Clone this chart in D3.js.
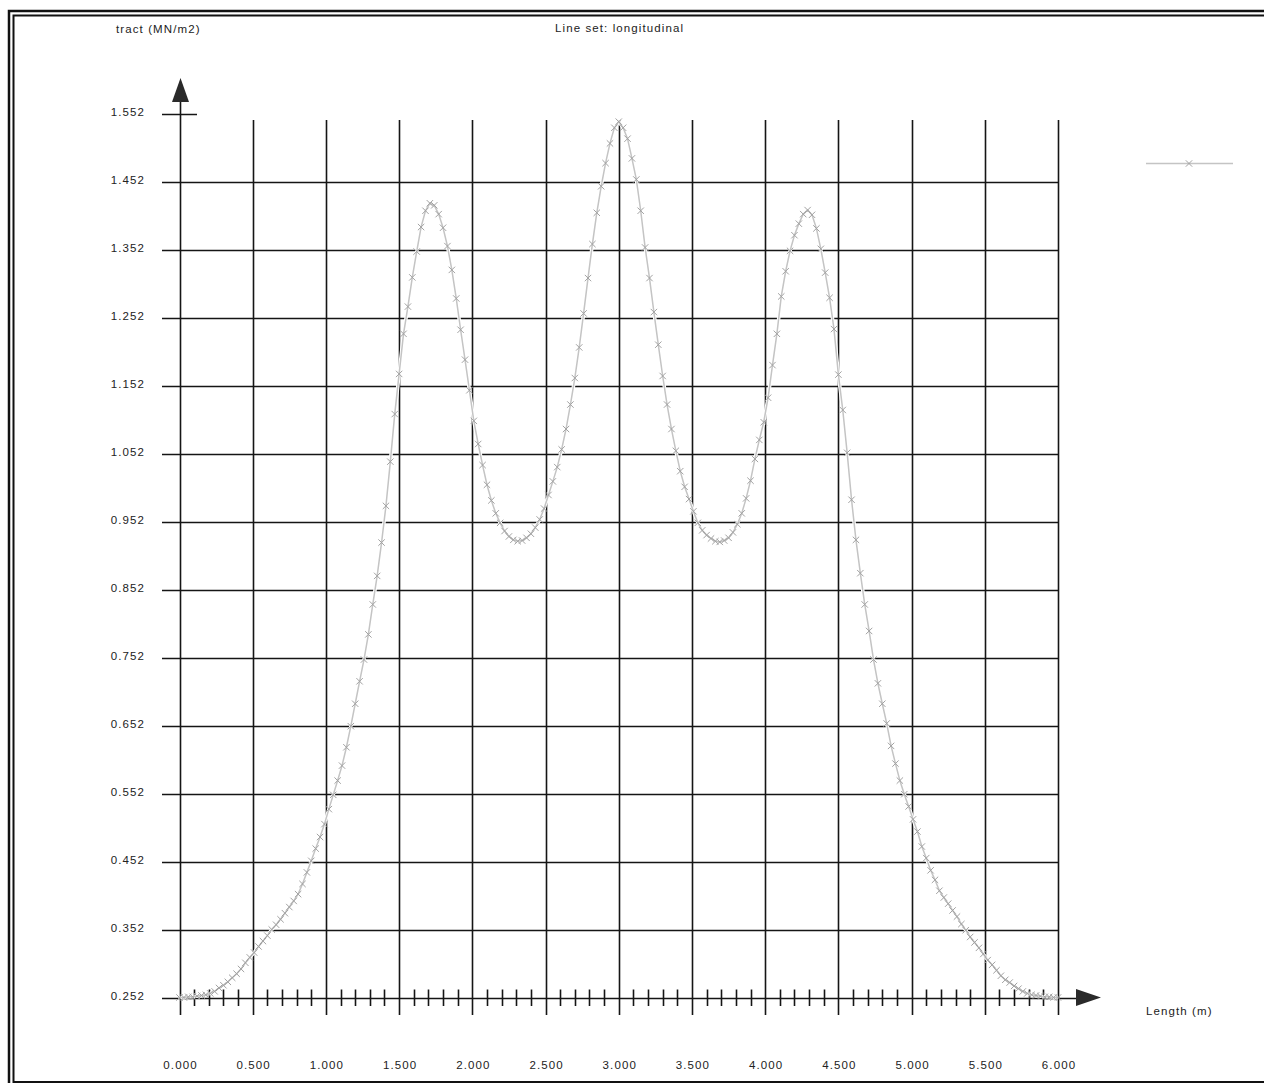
<!DOCTYPE html>
<html><head><meta charset="utf-8">
<script src="https://cdn.jsdelivr.net/npm/d3@7"></script>
<style>
html,body{margin:0;padding:0;background:#fff;}
svg{display:block;}
text{font-family:"Liberation Sans",Arial,sans-serif;font-size:11.5px;fill:#222;letter-spacing:1.1px;}
</style>
</head><body>
<svg id="chart" width="1264" height="1083"></svg>
<script>
const chartTitle = "Line set: longitudinal";
const yAxisTitle = "tract (MN/m2)";
const xAxisTitle = "Length (m)";

// stations every 0.03 m from 0.000 to 6.000
const stationStep = 0.03;
const tractValues = [
  0.252,0.252,0.253,0.253,0.254,0.255,0.256,0.258,0.261,0.266,
  0.270,0.275,0.281,0.287,0.294,0.303,0.311,0.318,0.327,0.335,
  0.343,0.352,0.359,0.367,0.376,0.385,0.394,0.404,0.419,0.436,
  0.453,0.471,0.488,0.507,0.529,0.550,0.571,0.593,0.620,0.651,
  0.684,0.717,0.749,0.786,0.830,0.872,0.921,0.975,1.040,1.110,
  1.169,1.228,1.268,1.311,1.349,1.385,1.409,1.420,1.417,1.404,
  1.384,1.357,1.322,1.280,1.234,1.190,1.145,1.100,1.066,1.035,
  1.006,0.983,0.964,0.950,0.938,0.930,0.925,0.923,0.924,0.928,
  0.934,0.943,0.955,0.971,0.991,1.011,1.032,1.058,1.088,1.124,
  1.163,1.208,1.258,1.310,1.360,1.406,1.445,1.479,1.508,1.531,
  1.540,1.531,1.515,1.486,1.455,1.409,1.355,1.310,1.260,1.212,
  1.166,1.124,1.088,1.056,1.026,1.003,0.985,0.967,0.950,0.939,
  0.932,0.927,0.923,0.922,0.924,0.928,0.936,0.948,0.964,0.986,
  1.012,1.044,1.072,1.098,1.134,1.182,1.228,1.283,1.320,1.350,
  1.373,1.390,1.404,1.410,1.403,1.383,1.353,1.318,1.281,1.235,
  1.168,1.116,1.053,0.984,0.925,0.876,0.830,0.791,0.749,0.714,
  0.684,0.655,0.622,0.596,0.571,0.551,0.533,0.514,0.496,0.474,
  0.457,0.439,0.425,0.409,0.399,0.390,0.380,0.371,0.360,0.351,
  0.341,0.333,0.325,0.316,0.307,0.300,0.292,0.284,0.278,0.274,
  0.269,0.265,0.261,0.258,0.256,0.255,0.254,0.253,0.253,0.252,
  0.252
];

const xTickValues = [0,0.5,1,1.5,2,2.5,3,3.5,4,4.5,5,5.5,6];
const xTickLabels = ["0.000","0.500","1.000","1.500","2.000","2.500","3.000","3.500","4.000","4.500","5.000","5.500","6.000"];
const xMinorTickValues = [0.1,0.2,0.3,0.4,0.6,0.7,0.8,0.9,1.1,1.2,1.3,1.4,1.6,1.7,1.8,1.9,2.1,2.2,2.3,2.4,2.6,2.7,2.8,2.9,3.1,3.2,3.3,3.4,3.6,3.7,3.8,3.9,4.1,4.2,4.3,4.4,4.6,4.7,4.8,4.9,5.1,5.2,5.3,5.4,5.6,5.7,5.8,5.9];
const yTickValues = [0.252,0.352,0.452,0.552,0.652,0.752,0.852,0.952,1.052,1.152,1.252,1.352,1.452,1.552];
const yTickLabels = ["0.252","0.352","0.452","0.552","0.652","0.752","0.852","0.952","1.052","1.152","1.252","1.352","1.452","1.552"];

const svg = d3.select("#chart");
svg.append("rect").attr("width",1264).attr("height",1083).attr("fill","#fff");

// double frame
svg.append("rect").attr("x",9).attr("y",11).attr("width",1280).attr("height",1090)
  .attr("fill","none").attr("stroke","#111").attr("stroke-width",2.5);
svg.append("rect").attr("x",13.5).attr("y",15.5).attr("width",1270).attr("height",1066.5)
  .attr("fill","none").attr("stroke","#111").attr("stroke-width",2);

const x = d3.scaleLinear().domain([0,6]).range([179.5,1058]);
const y = d3.scaleLinear().domain([0.252,1.552]).range([997.5,113.5]);

const gridColor = "#151515";
const g = svg.append("g");

// horizontal grid lines
g.selectAll(".hgrid").data(yTickValues).enter().append("line")
  .attr("x1",162)
  .attr("x2",(d,i)=> i===0 ? 1077 : (i===yTickValues.length-1 ? 197 : x(6)))
  .attr("y1",d=>Math.round(y(d))+0.5).attr("y2",d=>Math.round(y(d))+0.5)
  .attr("stroke",gridColor).attr("stroke-width",1.6);

// vertical grid lines
g.selectAll(".vgrid").data(xTickValues).enter().append("line")
  .attr("x1",d=>Math.round(x(d))+0.5).attr("x2",d=>Math.round(x(d))+0.5)
  .attr("y1",(d,i)=> i===0 ? 100 : 120).attr("y2",1015)
  .attr("stroke",gridColor).attr("stroke-width",1.6);

// minor ticks
g.selectAll(".minor").data(xMinorTickValues).enter().append("line")
  .attr("x1",d=>Math.round(x(d))+0.5).attr("x2",d=>Math.round(x(d))+0.5)
  .attr("y1",989.5).attr("y2",1006)
  .attr("stroke",gridColor).attr("stroke-width",1.6);

// arrows
svg.append("path").attr("d","M180.5,78L189,102L172,102Z").attr("fill","#2a2a2a");
svg.append("path").attr("d","M1076,989L1101,997.5L1076,1006Z").attr("fill","#2a2a2a");

// tick labels
svg.selectAll(".ylab").data(yTickValues).enter().append("text")
  .attr("x",145).attr("y",d=>y(d)+2.5).attr("text-anchor","end")
  .text((d,i)=>yTickLabels[i]);
svg.selectAll(".xlab").data(xTickValues).enter().append("text")
  .attr("x",d=>x(d)+1).attr("y",1068.5).attr("text-anchor","middle")
  .text((d,i)=>xTickLabels[i]);

svg.append("text").attr("x",116).attr("y",33).text(yAxisTitle);
svg.append("text").attr("x",555).attr("y",32).text(chartTitle);
svg.append("text").attr("x",1146).attr("y",1015).text(xAxisTitle);

// data curve
const pts = tractValues.map((v,i)=>({s:i*stationStep, v:v}));
const line = d3.line().x(d=>x(d.s)).y(d=>y(d.v));
svg.append("path").datum(pts).attr("d",line).attr("fill","none")
  .attr("stroke","#fff").attr("stroke-width",3.5);
svg.append("path").datum(pts).attr("d",line).attr("fill","none")
  .attr("stroke","#c4c4c4").attr("stroke-width",1.5);
const markerPath = "M-3.2,-3.2L3.2,3.2M-3.2,3.2L3.2,-3.2";
svg.selectAll(".mk").data(pts).enter().append("path")
  .attr("transform",d=>`translate(${x(d.s)},${y(d.v)})`)
  .attr("d",markerPath).attr("fill","none").attr("stroke","#a2a2a2").attr("stroke-width",1);

// legend
svg.append("line").attr("x1",1146).attr("x2",1233).attr("y1",163.5).attr("y2",163.5)
  .attr("stroke","#c4c4c4").attr("stroke-width",1.5);
svg.append("path").attr("transform","translate(1189,163.5)").attr("d",markerPath)
  .attr("fill","none").attr("stroke","#a2a2a2").attr("stroke-width",1);
</script>
</body></html>
